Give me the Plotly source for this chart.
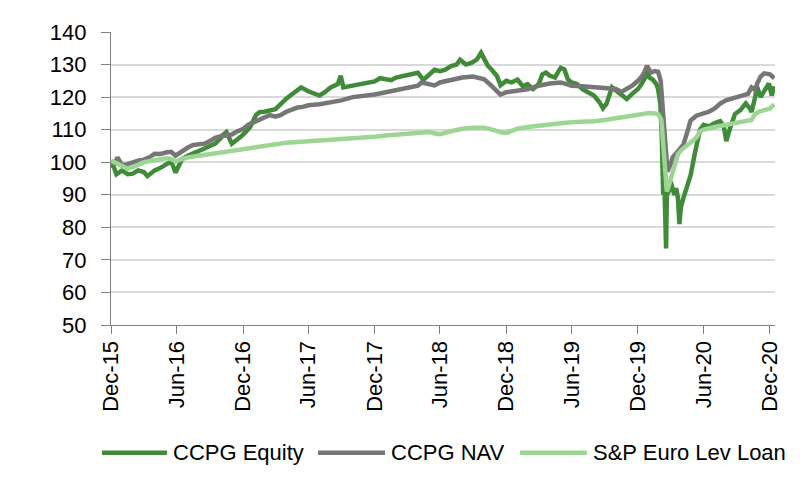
import plotly.graph_objects as go

# ---------------- data ----------------
equity_dates = [
    "2015-12-31", "2016-01-08", "2016-01-15", "2016-01-31", "2016-02-15", "2016-02-29",
    "2016-03-15", "2016-03-31", "2016-04-10", "2016-04-30", "2016-05-15", "2016-05-31",
    "2016-06-15", "2016-06-27", "2016-07-05", "2016-07-15", "2016-07-31", "2016-08-15",
    "2016-08-31", "2016-09-15", "2016-09-30", "2016-10-15", "2016-10-31", "2016-11-05",
    "2016-11-15", "2016-11-30", "2016-12-15", "2016-12-31", "2017-01-20", "2017-02-05",
    "2017-02-15", "2017-02-28", "2017-03-31", "2017-04-15", "2017-04-30", "2017-05-15",
    "2017-05-31", "2017-06-10", "2017-06-30", "2017-07-15", "2017-07-31", "2017-08-15",
    "2017-08-31", "2017-09-20", "2017-09-28", "2017-10-05", "2017-10-31", "2017-11-15",
    "2017-11-30", "2017-12-15", "2017-12-31", "2018-01-15", "2018-01-31", "2018-02-15",
    "2018-02-28", "2018-03-31", "2018-04-15", "2018-04-30", "2018-05-15", "2018-05-31",
    "2018-06-15", "2018-06-30", "2018-07-15", "2018-07-31", "2018-08-15", "2018-08-25",
    "2018-09-10", "2018-09-25", "2018-10-10", "2018-10-22", "2018-10-31", "2018-11-10",
    "2018-11-20", "2018-12-05", "2018-12-15", "2018-12-31", "2019-01-15", "2019-01-31",
    "2019-02-15", "2019-02-28", "2019-03-15", "2019-03-31", "2019-04-10", "2019-04-20",
    "2019-04-30", "2019-05-15", "2019-05-25", "2019-05-31", "2019-06-10", "2019-06-20",
    "2019-06-30", "2019-07-15", "2019-07-31", "2019-08-15", "2019-08-31", "2019-09-15",
    "2019-09-25", "2019-10-05", "2019-10-20", "2019-10-31", "2019-11-15", "2019-11-30",
    "2019-12-15", "2019-12-31", "2020-01-10", "2020-01-20", "2020-01-25", "2020-02-01",
    "2020-02-10", "2020-02-20", "2020-02-25", "2020-03-02", "2020-03-06", "2020-03-10",
    "2020-03-13", "2020-03-18", "2020-03-20", "2020-03-25", "2020-03-31", "2020-04-05",
    "2020-04-10", "2020-04-15", "2020-04-20", "2020-04-24", "2020-04-28", "2020-05-05",
    "2020-05-15", "2020-05-25", "2020-06-05", "2020-06-15", "2020-06-20", "2020-06-30",
    "2020-07-15", "2020-07-31", "2020-08-15", "2020-08-25", "2020-09-01", "2020-09-10",
    "2020-09-25", "2020-10-10", "2020-10-25", "2020-11-05", "2020-11-10", "2020-11-20",
    "2020-11-25", "2020-12-05", "2020-12-15", "2020-12-28", "2021-01-05", "2021-01-12",
]
equity_values = [
    99.4, 98.5, 96.3, 97.5, 96.3, 96.5,
    97.5, 97.0, 95.7, 97.5, 98.2, 99.5,
    100.3, 96.8, 99.0, 101.0, 102.0, 102.6,
    103.5, 104.2, 105.0, 105.7, 107.5, 108.4,
    109.3, 105.7, 107.0, 108.4, 110.8, 114.5,
    115.4, 115.5, 116.3, 118.0, 119.5, 120.8,
    122.0, 123.0, 121.8, 121.0, 120.5, 121.5,
    123.0, 124.0, 126.6, 123.0, 123.6, 123.9,
    124.3, 124.5, 124.8, 125.8, 125.5, 125.2,
    126.0, 126.6, 127.0, 127.5, 125.3, 127.0,
    128.4, 128.0, 128.4, 129.5, 130.0, 131.5,
    130.0, 130.5, 131.5, 133.6, 131.5, 129.6,
    128.5, 126.5, 123.6, 125.0, 124.5, 125.4,
    123.3, 124.0, 122.5, 124.0, 127.0, 127.5,
    126.6, 126.0, 128.0, 129.0, 128.5, 125.4,
    124.5, 124.0, 122.4, 121.5, 120.5, 118.5,
    116.6, 118.0, 123.0, 122.0, 120.5, 119.4,
    121.0, 122.5, 124.0, 126.0, 127.8, 126.0,
    125.4, 124.0, 122.4, 118.0, 108.0, 90.0,
    95.0, 73.5, 89.8, 91.0, 94.0, 92.0,
    90.0, 92.0, 89.0, 81.0, 86.0, 89.0,
    93.0, 96.0, 102.3, 107.0, 110.0, 111.5,
    111.0, 112.0, 112.6, 111.0, 106.5, 110.0,
    114.8, 116.0, 118.1, 116.5, 115.4, 120.0,
    123.3, 120.0, 122.0, 124.2, 120.5, 123.3,
]

nav_dates = [
    "2015-12-31", "2016-01-10", "2016-01-18", "2016-01-31", "2016-02-15", "2016-02-29",
    "2016-03-15", "2016-03-31", "2016-04-15", "2016-04-30", "2016-05-15", "2016-05-31",
    "2016-06-15", "2016-06-27", "2016-07-15", "2016-07-31", "2016-08-15", "2016-08-31",
    "2016-09-15", "2016-09-30", "2016-10-15", "2016-10-31", "2016-11-15", "2016-11-30",
    "2016-12-15", "2016-12-31", "2017-01-15", "2017-01-31", "2017-02-15", "2017-02-28",
    "2017-03-15", "2017-03-31", "2017-04-15", "2017-04-30", "2017-05-15", "2017-05-31",
    "2017-06-15", "2017-06-30", "2017-07-31", "2017-08-31", "2017-09-30", "2017-10-31",
    "2017-11-30", "2017-12-31", "2018-01-31", "2018-02-28", "2018-03-31", "2018-04-15",
    "2018-04-30", "2018-05-10", "2018-05-31", "2018-06-15", "2018-06-30", "2018-07-31",
    "2018-08-31", "2018-09-30", "2018-10-31", "2018-11-15", "2018-11-30", "2018-12-15",
    "2018-12-31", "2019-01-31", "2019-02-28", "2019-03-31", "2019-04-30", "2019-05-31",
    "2019-06-30", "2019-07-31", "2019-08-31", "2019-09-30", "2019-10-31", "2019-11-15",
    "2019-11-30", "2019-12-15", "2019-12-31", "2020-01-15", "2020-01-25", "2020-02-05",
    "2020-02-15", "2020-02-25", "2020-03-03", "2020-03-08", "2020-03-13", "2020-03-17",
    "2020-03-22", "2020-03-31", "2020-04-05", "2020-04-20", "2020-05-05", "2020-05-15",
    "2020-05-25", "2020-06-10", "2020-06-30", "2020-07-15", "2020-07-31", "2020-08-15",
    "2020-08-31", "2020-09-15", "2020-09-30", "2020-10-15", "2020-10-31", "2020-11-10",
    "2020-11-20", "2020-11-25", "2020-12-05", "2020-12-15", "2020-12-31", "2021-01-12",
]
nav_values = [
    100.2, 99.5, 101.5, 99.0, 99.4, 100.0,
    100.5, 100.8, 101.5, 102.6, 102.5, 103.0,
    103.2, 102.0, 103.5, 104.5, 105.3, 105.5,
    105.7, 106.5, 107.5, 108.0, 108.4, 108.5,
    109.5, 110.2, 111.5, 112.3, 113.2, 113.8,
    114.5, 114.0, 114.5, 115.5, 116.3, 116.8,
    117.0, 117.5, 117.8, 118.4, 119.0, 120.0,
    120.3, 120.8, 121.5, 122.2, 122.8, 123.0,
    123.5, 124.5, 124.0, 123.6, 124.5, 125.4,
    126.0, 126.3, 125.5, 124.0, 122.5, 120.8,
    121.5, 122.0, 122.4, 123.5, 124.2, 124.5,
    123.5, 123.3, 123.0, 123.0, 122.5, 121.6,
    122.5, 123.5, 125.0, 127.0, 129.6, 127.5,
    128.0, 127.8, 125.0, 118.0, 110.0, 103.0,
    97.1, 99.5, 101.4, 103.4, 105.4, 109.0,
    112.8, 114.3, 115.0, 115.5, 116.5, 118.0,
    119.0, 119.5, 120.0, 120.2, 121.0, 123.0,
    122.2, 124.0, 126.3, 127.3, 127.0, 125.8,
]

loan_dates = [
    "2015-12-31", "2016-01-15", "2016-01-31", "2016-02-15", "2016-02-29", "2016-03-15",
    "2016-03-31", "2016-04-30", "2016-05-31", "2016-06-15", "2016-06-27", "2016-07-15",
    "2016-07-31", "2016-08-31", "2016-09-30", "2016-10-31", "2016-11-30", "2016-12-31",
    "2017-01-31", "2017-02-28", "2017-03-31", "2017-04-30", "2017-05-31", "2017-06-30",
    "2017-07-31", "2017-08-31", "2017-09-30", "2017-10-31", "2017-11-30", "2017-12-31",
    "2018-01-31", "2018-02-28", "2018-03-31", "2018-04-30", "2018-05-31", "2018-06-15",
    "2018-06-30", "2018-07-31", "2018-08-31", "2018-09-30", "2018-10-31", "2018-11-30",
    "2018-12-15", "2018-12-31", "2019-01-31", "2019-02-28", "2019-03-31", "2019-04-30",
    "2019-05-31", "2019-06-30", "2019-07-31", "2019-08-31", "2019-09-30", "2019-10-31",
    "2019-11-30", "2019-12-31", "2020-01-31", "2020-02-15", "2020-02-25", "2020-03-05",
    "2020-03-10", "2020-03-15", "2020-03-20", "2020-03-25", "2020-03-31", "2020-04-10",
    "2020-04-20", "2020-04-30", "2020-05-15", "2020-05-31", "2020-06-10", "2020-06-20",
    "2020-06-30", "2020-07-31", "2020-08-31", "2020-09-30", "2020-10-31", "2020-11-10",
    "2020-11-20", "2020-11-30", "2020-12-15", "2020-12-31", "2021-01-12",
]
loan_values = [
    100.5, 99.5, 98.8, 98.0, 98.5, 99.2,
    100.0, 100.6, 101.2, 101.0, 100.2, 101.0,
    101.5, 102.0, 102.5, 103.0, 103.2, 103.8,
    104.5, 105.0, 105.5, 106.0, 106.2, 106.4,
    106.6, 106.8, 107.2, 107.4, 107.5, 107.8,
    108.2, 108.5, 108.8, 109.2, 109.3, 108.8,
    108.6, 109.5, 110.3, 110.6, 110.6, 109.8,
    109.2, 109.0, 110.3, 110.8, 111.3, 111.8,
    112.0, 112.3, 112.4, 112.6, 113.0, 113.6,
    114.1, 114.6, 115.1, 115.0, 114.8, 113.0,
    106.0, 97.0, 91.0, 92.5, 95.0, 99.5,
    102.5, 103.8, 105.0, 106.3, 107.5, 109.5,
    110.0, 110.8, 111.4, 112.0, 112.8, 113.0,
    114.8, 115.5, 116.0, 116.5, 117.8,
]

series_names = ["CCPG Equity", "CCPG NAV", "S&P Euro Lev Loan"]
tick_dates = ["2015-12-31", "2016-06-30", "2016-12-31", "2017-06-30", "2017-12-31",
              "2018-06-30", "2018-12-31", "2019-06-30", "2019-12-31", "2020-06-30",
              "2020-12-31"]
tick_labels = ["Dec-15", "Jun-16", "Dec-16", "Jun-17", "Dec-17", "Jun-18",
               "Dec-18", "Jun-19", "Dec-19", "Jun-20", "Dec-20"]
y_ticks = [50, 60, 70, 80, 90, 100, 110, 120, 130, 140]

# ---------------- figure ----------------
colors = ["#3f8b37", "#767676", "#9cd692"]
FONT = "Liberation Sans, Arial, sans-serif"
FS = 22
LW = 4.5

fig = go.Figure()
for name, xs, ys, c in zip(series_names,
                           [equity_dates, nav_dates, loan_dates],
                           [equity_values, nav_values, loan_values],
                           colors):
    fig.add_trace(go.Scatter(x=xs, y=ys, mode="lines", name=name,
                             line=dict(color=c, width=LW), showlegend=False))

# legend drawn below the plot (long line samples as in the reference)
legend_line_x = [(-0.0136, 0.0843), (0.3117, 0.4127), (0.616, 0.7169)]
legend_y = -0.436
for name, c, (x0, x1) in zip(series_names, colors, legend_line_x):
    fig.add_shape(type="line", xref="paper", yref="paper", x0=x0, x1=x1,
                  y0=legend_y, y1=legend_y, line=dict(color=c, width=LW))
    fig.add_annotation(xref="paper", yref="paper", x=x1 + 0.006, y=legend_y,
                       text=name, showarrow=False, xanchor="left", yanchor="middle",
                       font=dict(size=FS, family=FONT, color="black"))

# the page body adds an 8px offset, so the figure is 792x474
fig.update_layout(
    width=792, height=474,
    margin=dict(l=103, r=25, t=21, b=157),
    paper_bgcolor="white", plot_bgcolor="white",
    font=dict(family=FONT, color="black", size=FS),
    showlegend=False,
)
fig.update_xaxes(
    type="date", range=["2015-12-31", "2021-01-14"],
    tickmode="array", tickvals=tick_dates, ticktext=tick_labels, tickangle=-90,
    showline=True, linecolor="#808080", linewidth=1.2,
    ticks="outside", ticklen=8, tickcolor="#808080", tickwidth=1.2,
    showgrid=False, zeroline=False, ticklabelstandoff=-2,
    tickfont=dict(size=FS, family=FONT, color="black"),
)
fig.update_yaxes(
    range=[50, 140], tickmode="array", tickvals=y_ticks,
    showline=True, linecolor="#808080", linewidth=1.2,
    ticks="outside", ticklen=9, tickcolor="#808080", tickwidth=1.2,
    showgrid=True, gridcolor="#d9d9d9", gridwidth=1.5, zeroline=False,
    ticklabelstandoff=10,
    tickfont=dict(size=FS, family=FONT, color="black"),
)

fig.write_html("out.html")
